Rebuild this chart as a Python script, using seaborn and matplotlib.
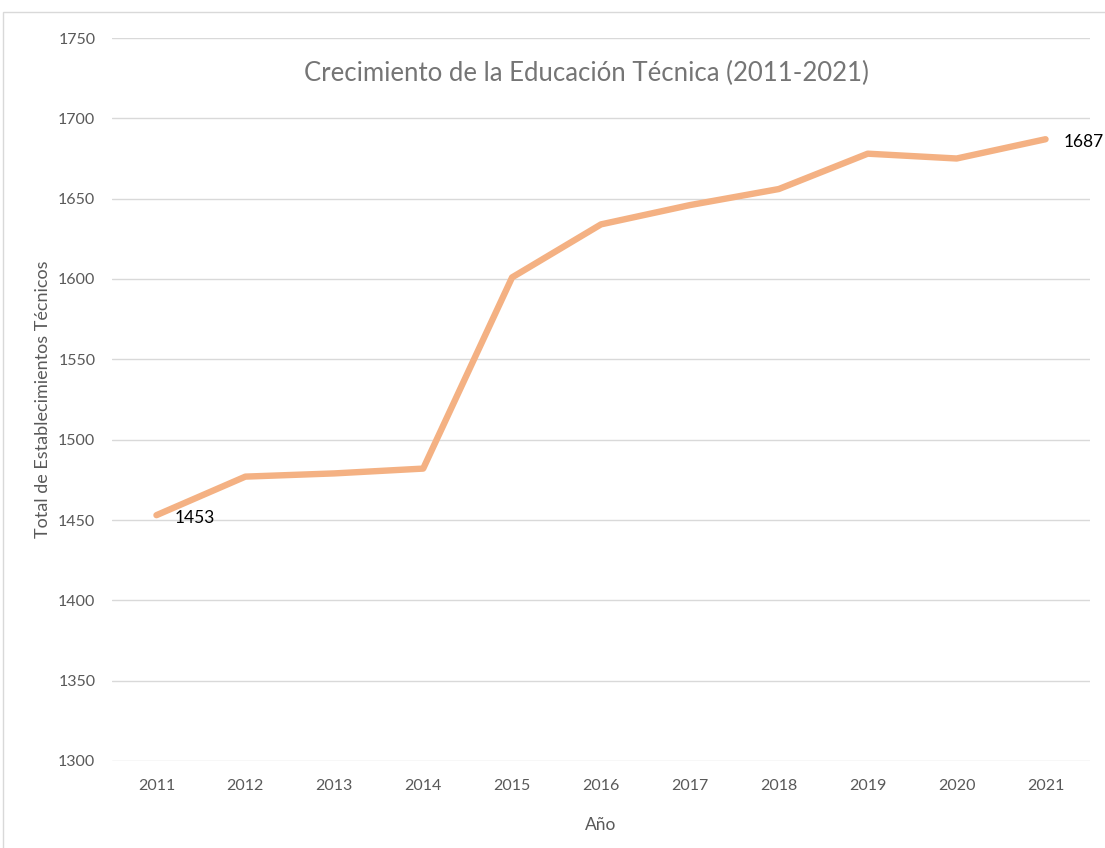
import matplotlib
matplotlib.use("Agg")
import matplotlib.pyplot as plt
import seaborn as sns
import pandas as pd
from matplotlib.patches import Rectangle

anios = ["2011", "2012", "2013", "2014", "2015", "2016", "2017", "2018", "2019", "2020", "2021"]
totales = [1453, 1477, 1479, 1482, 1601, 1634, 1646, 1656, 1678, 1675, 1687]

df = pd.DataFrame({"Año": anios, "Total": totales})

sns.set_theme(style="white")
plt.rcParams["font.family"] = ["Lato", "DejaVu Sans"]

fig = plt.figure(figsize=(11.05, 8.48), dpi=100)
ax = fig.add_axes([112 / 1105, 1 - 761 / 848, (1090 - 112) / 1105, (761 - 38) / 848])

sns.lineplot(data=df, x="Año", y="Total", ax=ax, color="#F4B183",
             linewidth=4.6, solid_capstyle="round", sort=False)

ax.set_xlim(-0.5, len(anios) - 0.5)
ax.set_ylim(1300, 1750)
ax.set_yticks(range(1300, 1751, 50))
ax.grid(axis="y", color="#D9D9D9", linewidth=1)
ax.set_axisbelow(True)
for s in ax.spines.values():
    s.set_visible(False)
ax.tick_params(axis="both", length=0, colors="#595959", labelsize=11.5)
ax.tick_params(axis="x", pad=13)
ax.tick_params(axis="y", pad=12)

ax.set_xlabel("Año", color="#595959", fontsize=12.5, labelpad=17)
ax.set_ylabel("Total de Establecimientos Técnicos", color="#595959", fontsize=13, labelpad=5)

# título centrado como en el original
fig.text(586 / 1105, 1 - 73 / 848, "Crecimiento de la Educación Técnica (2011-2021)",
         color="#757575", fontsize=18.5, ha="center", va="center")

ax.annotate(str(totales[0]), (0, totales[0]), xytext=(13, -2), textcoords="offset points",
            ha="left", va="center", fontsize=12.5, color="black")
ax.annotate(str(totales[-1]), (len(anios) - 1, totales[-1]), xytext=(13, -2),
            textcoords="offset points", ha="left", va="center", fontsize=12.5,
            color="black", annotation_clip=False)

# borde del cuadro del gráfico
fig.patches.append(Rectangle((3 / 1105, -0.01), 1.2, 1 - 12 / 848 + 0.01,
                             transform=fig.transFigure, fill=False,
                             edgecolor="#D9D9D9", linewidth=1))

fig.savefig("out.png", dpi=100)
